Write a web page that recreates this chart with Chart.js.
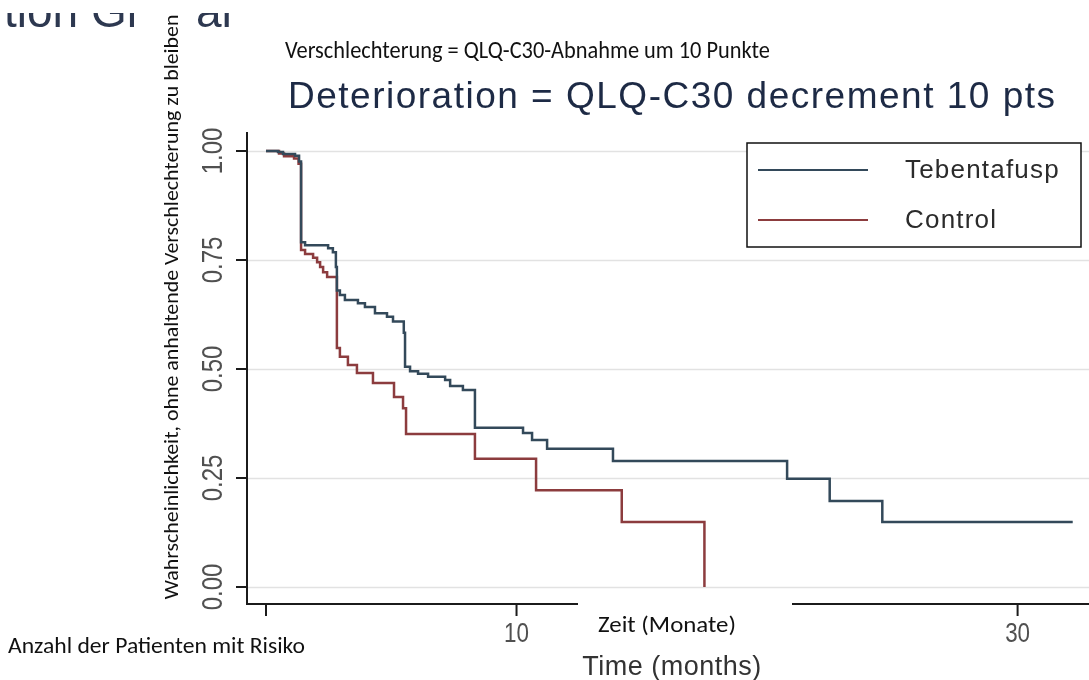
<!DOCTYPE html>
<html>
<head>
<meta charset="utf-8">
<title>Deterioration = QLQ-C30 decrement 10 pts</title>
<script src="https://cdn.jsdelivr.net/npm/chart.js@4.4.1/dist/chart.umd.min.js"></script>
<style>
  html, body { margin: 0; padding: 0; background: #fff; overflow: hidden; }
  canvas { display: block; }
</style>
</head>
<body>
<canvas id="km" width="1089" height="680"></canvas>
<script>
// Kaplan-Meier curves: time to sustained deterioration (months) and probability
const seriesNames = ['Tebentafusp', 'Control'];

const tebTime = [0, 0.48, 0.68, 1.16, 1.32, 1.40, 1.56, 2.48, 2.67, 2.79, 2.83, 2.95, 3.15, 3.67, 3.95, 4.35,
  4.83, 5.07, 5.50, 5.55, 5.75, 6.07, 6.47, 7.15, 7.35, 7.86, 8.34, 10.26, 10.62, 11.22, 13.85, 20.8, 22.5, 24.6, 32.2];
const tebSurv = [1.0, 0.998, 0.993, 0.989, 0.976, 0.791, 0.784, 0.777, 0.768, 0.734, 0.680, 0.670, 0.658, 0.651, 0.642, 0.628,
  0.620, 0.609, 0.583, 0.505, 0.495, 0.489, 0.482, 0.475, 0.461, 0.452, 0.365, 0.353, 0.337, 0.317, 0.289, 0.248, 0.197, 0.149, 0.149];

const ctrlTime = [0, 0.52, 0.72, 1.12, 1.30, 1.40, 1.56, 1.88, 2.04, 2.16, 2.28, 2.44, 2.83, 2.95, 3.27, 3.63,
  4.27, 5.11, 5.47, 5.59, 8.34, 10.78, 14.2, 17.5];
const ctrlSurv = [1.0, 0.994, 0.988, 0.983, 0.971, 0.773, 0.764, 0.755, 0.745, 0.734, 0.722, 0.711, 0.548, 0.528, 0.509, 0.491,
  0.468, 0.436, 0.410, 0.351, 0.294, 0.222, 0.149, 0.0];

const xTickValues = [0, 10, 20, 30];
const yTickValues = [0, 0.25, 0.5, 0.75, 1];

const chartTitle = 'Deterioration = QLQ-C30 decrement 10 pts';
const xAxisTitle = 'Time (months)';
const headerFragmentLeft = 'tion Gr';
const headerFragmentRight = 'art';
const germanSubtitle = 'Verschlechterung = QLQ-C30-Abnahme um 10 Punkte';
const germanYTitle = 'Wahrscheinlichkeit, ohne anhaltende Verschlechterung zu bleiben';
const germanXTitle = 'Zeit (Monate)';
const germanRiskLabel = 'Anzahl der Patienten mit Risiko';

const seriesColors = ['#33495a', '#8c3c3e'];

function toPoints(times, values) {
  return times.map((t, i) => ({ x: t, y: values[i] }));
}

const STATA_FONT = '"Liberation Sans", Arial, sans-serif';
const OFFICE_FONT = 'Carlito, Lato, "Open Sans", sans-serif';

// draw text squeezed horizontally by factor sx
function fillScaled(ctx, text, x, y, sx, align) {
  ctx.save();
  ctx.translate(x, y);
  ctx.scale(sx, 1);
  ctx.textAlign = align || 'left';
  ctx.fillText(text, 0, 0);
  ctx.restore();
}

// draw text at a given size, stretched or squeezed to span the given width
function fillFitted(ctx, text, x, y, size, family, width, align) {
  ctx.font = size + 'px ' + family;
  const w = ctx.measureText(text).width;
  fillScaled(ctx, text, x, y, width / w, align);
}

function setSpacing(ctx, px) {
  if ('letterSpacing' in ctx) ctx.letterSpacing = px + 'px';
}

const gridPlugin = {
  id: 'kmGrid',
  beforeDatasetsDraw(chart) {
    const { ctx, chartArea, scales } = chart;
    ctx.save();
    ctx.strokeStyle = '#e2e2e2';
    ctx.lineWidth = 1.5;
    yTickValues.forEach(v => {
      const y = Math.round(scales.y.getPixelForValue(v)) + 0.5;
      ctx.beginPath();
      ctx.moveTo(chartArea.left, y);
      ctx.lineTo(chartArea.right, y);
      ctx.stroke();
    });
    ctx.restore();
  }
};

const decorPlugin = {
  id: 'kmDecor',
  afterDatasetsDraw(chart) {
    const { ctx, chartArea, scales } = chart;
    const xs = scales.x, ys = scales.y;
    const left = chartArea.left, bottom = chartArea.bottom;
    ctx.save();

    // axes
    ctx.strokeStyle = '#1b1b1b';
    ctx.lineWidth = 2;
    ctx.beginPath();
    ctx.moveTo(left, chartArea.top);
    ctx.lineTo(left, bottom);
    ctx.lineTo(chartArea.right, bottom);
    ctx.stroke();

    // y ticks and rotated labels
    ctx.fillStyle = '#505050';
    ctx.font = '30px ' + STATA_FONT;
    ctx.textBaseline = 'alphabetic';
    yTickValues.forEach(v => {
      const y = ys.getPixelForValue(v);
      ctx.beginPath();
      ctx.moveTo(left - 11, y);
      ctx.lineTo(left, y);
      ctx.stroke();
      ctx.save();
      ctx.translate(left - 25, y);
      ctx.rotate(-Math.PI / 2);
      fillScaled(ctx, v.toFixed(2), 0, 0, 0.8, 'center');
      ctx.restore();
    });

    // x ticks and labels
    ctx.font = '28px ' + STATA_FONT;
    xTickValues.forEach(v => {
      const x = xs.getPixelForValue(v);
      ctx.beginPath();
      ctx.moveTo(x, bottom);
      ctx.lineTo(x, bottom + 12);
      ctx.stroke();
      fillScaled(ctx, String(v), x, bottom + 38, 0.8, 'center');
    });

    // x axis title
    ctx.fillStyle = '#333';
    ctx.textAlign = 'center';
    ctx.font = '27px ' + STATA_FONT;
    setSpacing(ctx, 0.5);
    ctx.fillText(xAxisTitle, (left + chartArea.right) / 2 + 4, 675);

    // chart title
    ctx.fillStyle = '#1d2a45';
    ctx.textAlign = 'left';
    ctx.font = '37px ' + STATA_FONT;
    setSpacing(ctx, 1.5);
    ctx.fillText(chartTitle, 288, 108);

    // legend
    const lx = 747, ly = 143, lw = 334, lh = 104;
    ctx.fillStyle = '#fff';
    ctx.fillRect(lx, ly, lw, lh);
    ctx.lineWidth = 1.5;
    ctx.strokeStyle = '#111';
    ctx.strokeRect(lx, ly, lw, lh);
    ctx.font = '26px ' + STATA_FONT;
    setSpacing(ctx, 1.2);
    chart.data.datasets.forEach((ds, i) => {
      const y = 170 + i * 50;
      ctx.strokeStyle = ds.borderColor;
      ctx.lineWidth = 2;
      ctx.beginPath();
      ctx.moveTo(758, y);
      ctx.lineTo(868, y);
      ctx.stroke();
      ctx.fillStyle = '#2b2b2b';
      ctx.fillText(ds.label, 905, y + 8);
    });
    setSpacing(ctx, 0);

    // partial heading strip at the top left
    ctx.save();
    ctx.beginPath();
    ctx.rect(0, 13, 232, 16);
    ctx.clip();
    ctx.fillStyle = '#2d3850';
    ctx.font = '46px ' + STATA_FONT;
    ctx.fillText(headerFragmentLeft, 4, 27);
    ctx.fillText(headerFragmentRight, 196, 27);
    ctx.restore();

    // German subtitle
    ctx.fillStyle = '#111';
    fillFitted(ctx, germanSubtitle, 285, 58, 25, OFFICE_FONT, 485, 'left');

    // German y axis title
    ctx.fillStyle = '#fff';
    ctx.fillRect(161, 0, 25, 604);
    ctx.fillStyle = '#111';
    ctx.save();
    ctx.translate(173, 307);
    ctx.rotate(-Math.PI / 2);
    ctx.textBaseline = 'middle';
    fillFitted(ctx, germanYTitle, 0, 0, 21, OFFICE_FONT, 585, 'center');
    ctx.restore();

    // German x axis title
    ctx.fillStyle = '#fff';
    ctx.fillRect(578, 595, 214, 51);
    ctx.fillStyle = '#111';
    fillFitted(ctx, germanXTitle, 667, 632, 22, OFFICE_FONT, 138, 'center');

    // German at-risk label
    ctx.fillStyle = '#fff';
    ctx.fillRect(0, 621, 312, 51);
    ctx.fillStyle = '#111';
    fillFitted(ctx, germanRiskLabel, 8, 653, 22, OFFICE_FONT, 297, 'left');

    ctx.restore();
  }
};

new Chart(document.getElementById('km'), {
  type: 'line',
  data: {
    datasets: [
      { label: seriesNames[0], data: toPoints(tebTime, tebSurv), borderColor: seriesColors[0] },
      { label: seriesNames[1], data: toPoints(ctrlTime, ctrlSurv), borderColor: seriesColors[1] }
    ].map(ds => Object.assign(ds, {
      stepped: 'before',
      borderWidth: 2.5,
      pointRadius: 0,
      fill: false,
      tension: 0
    }))
  },
  options: {
    responsive: false,
    animation: false,
    devicePixelRatio: 1,
    layout: { padding: { left: 247, right: 0, top: 132, bottom: 76 } },
    scales: {
      x: { type: 'linear', min: -0.758, max: 32.85, display: false },
      y: { type: 'linear', min: -0.039, max: 1.0436, display: false }
    },
    plugins: {
      legend: { display: false },
      tooltip: { enabled: false },
      title: { display: false }
    }
  },
  plugins: [gridPlugin, decorPlugin]
});
</script>
</body>
</html>
